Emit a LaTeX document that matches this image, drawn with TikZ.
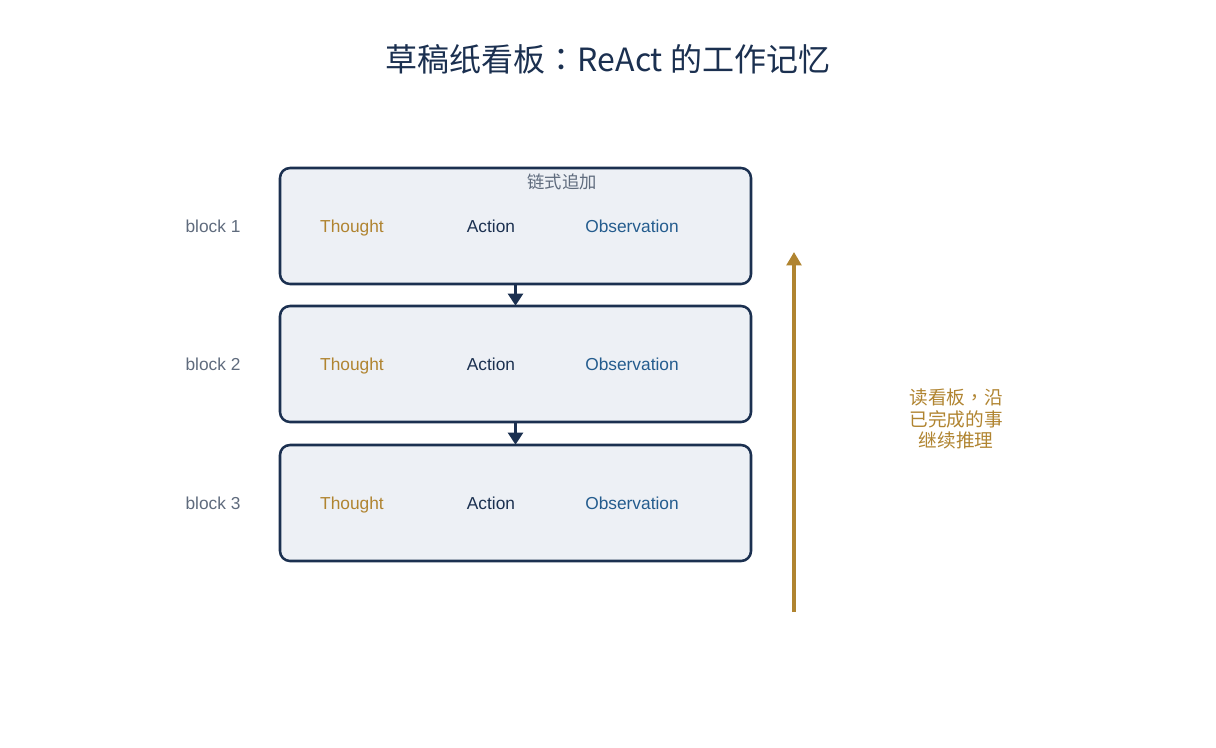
\documentclass[tikz,border=0pt]{standalone}
\usepackage{fontspec}
\setmainfont{Liberation Sans}
\newfontfamily\cjk{Noto Sans CJK SC}
\newfontfamily\cjktc{Noto Sans CJK TC}
\usetikzlibrary{arrows.meta}
\definecolor{navy}{HTML}{1B3050}
\definecolor{boxfill}{HTML}{EDF0F5}
\definecolor{gold}{HTML}{B08430}
\definecolor{grey}{HTML}{5F6B7D}
\definecolor{obs}{HTML}{245C8E}
\tikzset{
  blockbox/.style={draw=navy, fill=boxfill, line width=1.9pt, rounded corners=7.5pt},
  lbl/.style={font=\fontsize{13pt}{15pt}\selectfont, inner sep=0pt, anchor=base},
  flow/.style={draw=navy, line width=2.4pt, -{Triangle[length=9pt,width=11pt]}},
  readarrow/.style={draw=gold, line width=2.4pt, -{Triangle[length=10pt,width=11pt]}},
}
\begin{document}
\begin{tikzpicture}[x=0.75pt,y=-0.75pt]
\useasboundingbox (0,0) rectangle (1216,747);
\node[font=\cjk\fontsize{24pt}{28pt}\selectfont, text=navy, inner sep=0pt] (title) at (608,59) {草稿纸看板{\cjktc ：}ReAct 的工作记忆};
\foreach \i/\y in {1/226,2/364,3/503}{
  \path[blockbox] (280,\y-58) rectangle (751,\y+58);
  \node[minimum width=471*0.75pt, minimum height=116*0.75pt, inner sep=0pt] (b\i) at (515.5,\y) {};
  \node[lbl, text=grey] (n\i) at (213,\y+6) {block \i};
  \node[lbl, text=gold] (t\i) at (352,\y+6) {Thought};
  \node[lbl, text=navy] (a\i) at (491,\y+6) {Action};
  \node[lbl, text=obs] (o\i) at (632,\y+6) {Observation};
}
\node[lbl, anchor=center, font=\cjk\fontsize{13pt}{15pt}\selectfont, text=grey] (chain) at (562,182) {链式追加};
\draw[flow] (b1.south) -- (b2.north);
\draw[flow] (b2.south) -- (b3.north);
\coordinate (rs) at (794,612);
\coordinate (re) at (794,252);
\draw[readarrow] (rs) -- (re);
\node[font=\cjk\fontsize{14pt}{16pt}\selectfont, text=gold, align=center, inner sep=0pt] (note) at (956,419) {读看板{\cjktc ，}沿\\已完成的事\\继续推理};
\end{tikzpicture}
\end{document}
